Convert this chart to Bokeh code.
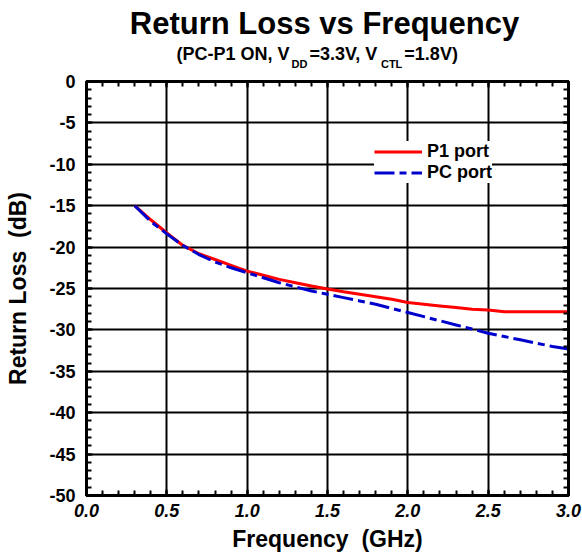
from bokeh.plotting import figure
from bokeh.layouts import column
from bokeh.models import (Range1d, LinearAxis, SingleIntervalTicker, Label, Legend, LegendItem,
                          CustomJSTickFormatter)
from bokeh.embed import file_html
from bokeh.resources import INLINE

# ---------------- data ----------------
freq = [0.3, 0.4, 0.5, 0.6, 0.7, 0.8, 0.9, 1.0, 1.1, 1.2, 1.3, 1.4, 1.5, 1.6,
        1.7, 1.8, 1.9, 2.0, 2.1, 2.2, 2.3, 2.4, 2.5, 2.6, 2.7, 2.8, 2.9, 3.0]
p1_port = [-15.0, -16.7, -18.3, -19.8, -20.8, -21.5, -22.2, -22.9, -23.4, -23.9,
           -24.3, -24.7, -25.05, -25.4, -25.7, -26.0, -26.3, -26.7, -26.9, -27.1,
           -27.3, -27.5, -27.6, -27.8, -27.8, -27.8, -27.8, -27.8]
pc_port = [-15.0, -16.9, -18.4, -19.8, -20.9, -21.8, -22.5, -23.1, -23.7, -24.3,
           -24.8, -25.3, -25.7, -26.1, -26.5, -26.9, -27.4, -27.9, -28.4, -28.9,
           -29.4, -29.9, -30.4, -30.8, -31.2, -31.6, -32.0, -32.3]
x_ticks = [0.0, 0.5, 1.0, 1.5, 2.0, 2.5, 3.0]
y_ticks = [0, -5, -10, -15, -20, -25, -30, -35, -40, -45, -50]
series_names = ["P1 port", "PC port"]
title_text = "Return Loss vs Frequency"
subtitle_parts = ["(PC-P1 ON, V", "DD", "=3.3V, V", "CTL", "=1.8V)"]

FONT = "Liberation Sans"
W, H = 582, 559
TH = 72                               # height of the title strip
FL, FR, FT, FB = 86, 568, 81, 495     # frame edges in canvas pixels

# ---------------- title strip (frame aligned with main frame) ----------------
t = figure(width=W, height=TH, output_backend="svg", toolbar_location=None,
           x_range=Range1d(FL, FR), y_range=Range1d(TH, 0),
           min_border_left=FL, min_border_right=W - FR, min_border_top=0,
           min_border_bottom=0, x_axis_type=None, y_axis_type=None,
           background_fill_color="white", border_fill_color="white")
t.title.visible = False
t.outline_line_color = None
t.grid.visible = False

def lab(text, cx, baseline, size, align="left"):
    # empirical correction: rendered baseline sits about 0.36 em below y
    t.add_layout(Label(x=cx, y=baseline - 0.36 * size, text=text, text_font=FONT,
                       text_font_style="bold", text_font_size=f"{size}px",
                       text_align=align, text_baseline="alphabetic",
                       text_color="black"))

lab(title_text, 324, 34, 31, align="center")

widths = {"(": 333, "P": 667, "C": 722, "-": 333, "1": 556, " ": 278, "O": 778, "N": 722,
          ",": 278, "V": 667, "=": 584, "3": 556, ".": 278, "8": 556, ")": 333, "D": 722,
          "T": 611, "L": 611}
sizes = [18, 11, 18, 11, 18]
drops = [0, 7, 0, 7, 0]
xpos = 176
for txt, sz, dy in zip(subtitle_parts, sizes, drops):
    lab(txt, xpos, 60 + dy, sz)
    xpos += sum(widths[c] for c in txt) / 1000 * sz + 2

# ---------------- main plot ----------------
p = figure(width=W, height=H - TH, output_backend="svg", toolbar_location=None,
           x_range=Range1d(x_ticks[0], x_ticks[-1]), y_range=Range1d(y_ticks[-1], y_ticks[0]),
           min_border_left=FL, min_border_right=W - FR,
           min_border_top=FT - TH, min_border_bottom=H - FB,
           background_fill_color="white", border_fill_color="white")
p.title.visible = False
p.outline_line_color = "black"
p.outline_line_width = 3

xt = SingleIntervalTicker(interval=0.5, num_minor_ticks=5)
yt = SingleIntervalTicker(interval=5, num_minor_ticks=5)

def style_axis(ax, labels=True):
    ax.axis_line_width = 3
    ax.axis_line_color = "black"
    ax.major_tick_in = 6
    ax.major_tick_out = 0
    ax.major_tick_line_width = 2
    ax.major_tick_line_color = "black"
    ax.minor_tick_in = 5
    ax.minor_tick_out = 0
    ax.minor_tick_line_width = 2
    ax.minor_tick_line_color = "black"
    ax.major_label_text_color = "black"
    ax.axis_label_text_color = "black"
    if not labels:
        ax.formatter = CustomJSTickFormatter(code="return ''")
        ax.major_label_standoff = 0

xa = p.xaxis[0]
ya = p.yaxis[0]
xa.ticker = xt
ya.ticker = yt
style_axis(xa)
style_axis(ya)
xa.formatter = CustomJSTickFormatter(code="return tick.toFixed(1)")
xa.major_label_text_font = FONT
xa.major_label_text_font_style = "bold italic"
xa.major_label_text_font_size = "18px"
xa.major_label_standoff = 8
xa.axis_label = "Frequency\u00a0 (GHz)"
xa.axis_label_text_font = FONT
xa.axis_label_text_font_style = "bold"
xa.axis_label_text_font_size = "23px"
xa.axis_label_standoff = 6

ya.formatter = CustomJSTickFormatter(code="return tick.toFixed(0)")
ya.major_label_text_font = FONT
ya.major_label_text_font_style = "bold"
ya.major_label_text_font_size = "18px"
ya.major_label_standoff = 11
ya.axis_label = "Return Loss\u00a0 (dB)"
ya.axis_label_text_font = FONT
ya.axis_label_text_font_style = "bold"
ya.axis_label_text_font_size = "23px"
ya.axis_label_standoff = 15

ra = LinearAxis(ticker=SingleIntervalTicker(interval=5, num_minor_ticks=5))
ta = LinearAxis(ticker=SingleIntervalTicker(interval=0.5, num_minor_ticks=5))
style_axis(ra, labels=False)
style_axis(ta, labels=False)
p.add_layout(ra, "right")
p.add_layout(ta, "above")

p.xgrid.ticker = xt
p.ygrid.ticker = yt
for g in (p.xgrid[0], p.ygrid[0]):
    g.grid_line_color = "black"
    g.grid_line_width = 2
    g.grid_line_alpha = 1

r1 = p.line(freq, p1_port, line_color="#ff0000", line_width=3)
r2 = p.line(freq, pc_port, line_color="#0000cc", line_width=3, line_dash="20 5 7 5")

legend = Legend(items=[LegendItem(label=series_names[0], renderers=[r1]),
                       LegendItem(label=series_names[1], renderers=[r2])],
                location=(374 - FL, FB - 183), orientation="vertical",
                background_fill_color="white", background_fill_alpha=1,
                border_line_color=None, glyph_width=48, glyph_height=19,
                label_height=19, label_standoff=5, spacing=-3, padding=4, margin=0,
                label_text_font=FONT, label_text_font_style="bold",
                label_text_font_size="18px", label_text_color="black")
p.add_layout(legend, "center")

layout = column(t, p, spacing=0)
open("out.html", "w").write(file_html(layout, INLINE))
